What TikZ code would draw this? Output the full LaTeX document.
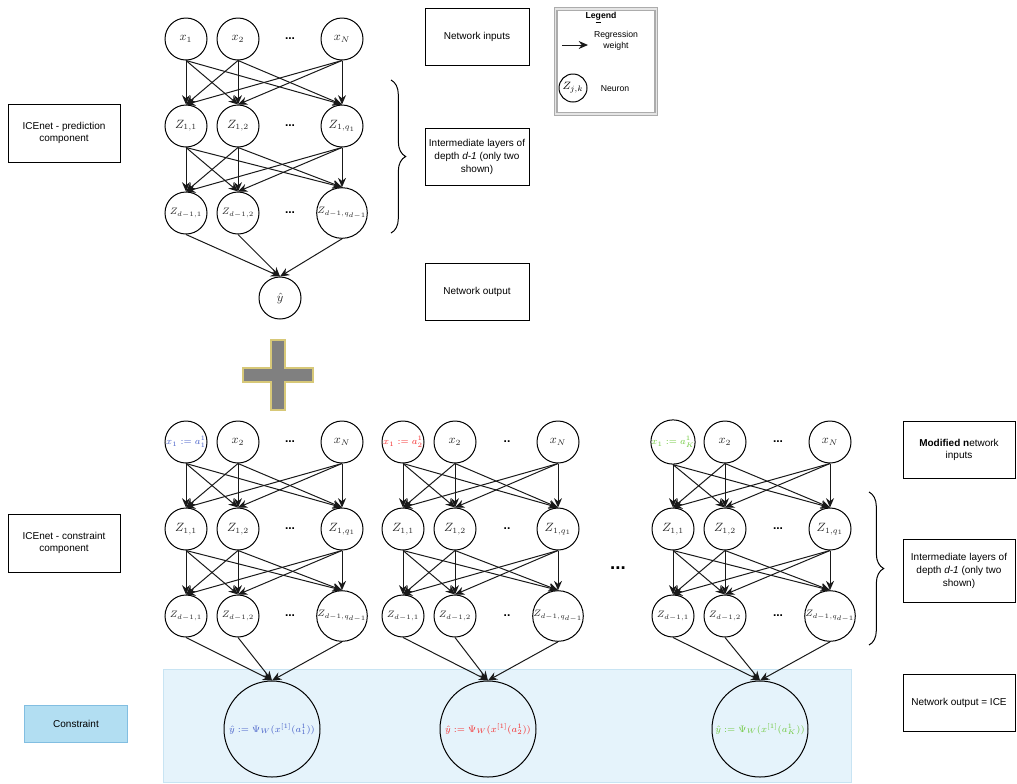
\documentclass[tikz,border=0pt]{standalone}
\usepackage[no-math]{fontspec}
\setmainfont{Liberation Sans}
\usetikzlibrary{arrows.meta,decorations.pathreplacing}
\definecolor{lblue}{RGB}{70,95,200}
\definecolor{lred}{RGB}{245,45,45}
\definecolor{lgreen}{RGB}{110,200,60}
\definecolor{areafill}{RGB}{229,243,251}
\definecolor{areadraw}{RGB}{200,228,243}
\definecolor{consfill}{RGB}{178,222,242}
\definecolor{consdraw}{RGB}{130,190,225}
\definecolor{plusfill}{RGB}{128,128,128}
\definecolor{plusdraw}{RGB}{215,200,120}
\tikzset{
  neuron/.style={circle,draw,line width=0.75pt,minimum size=31.5pt,inner sep=0pt,text=black!85,font=\fontsize{9}{9}\selectfont},
  outn/.style={circle,draw,line width=0.75pt,minimum size=72pt,inner sep=0pt,font=\fontsize{7}{8}\selectfont},
  dotn/.style={inner sep=0pt,font=\fontsize{9}{9}\selectfont\bfseries},
  arr/.style={line width=0.75pt,draw=black!90,-{Stealth[length=7pt,width=6pt]}},
  tbox/.style={draw,line width=0.75pt,align=center,inner sep=1pt,font=\fontsize{7.5}{9.5}\selectfont},
  bracestyle/.style={line width=0.75pt,decorate,decoration={brace,amplitude=11pt}},
}
\newcommand{\smalllab}[1]{{\fontsize{7.3}{8}\selectfont #1}}
\newcommand{\nnet}[8]{%
  \node[neuron] (#1i1) at ({#2},{#6}) {#7};
  \node[neuron] (#1i2) at ({#3},{#6}) {$x_2$};
  \node[dotn] (#1id) at ({#4},{#6}) {#8};
  \node[neuron] (#1iN) at ({#5},{#6}) {$x_N$};
  \node[neuron] (#1a1) at ({#2},{#6+87}) {$Z_{1,1}$};
  \node[neuron] (#1a2) at ({#3},{#6+87}) {$Z_{1,2}$};
  \node[dotn] (#1ad) at ({#4},{#6+87}) {#8};
  \node[neuron] (#1aN) at ({#5},{#6+87}) {$Z_{1,q_1}$};
  \node[neuron] (#1b1) at ({#2},{#6+174}) {\smalllab{$Z_{d-1,1}$}};
  \node[neuron] (#1b2) at ({#3},{#6+174}) {\smalllab{$Z_{d-1,2}$}};
  \node[dotn] (#1bd) at ({#4},{#6+174}) {#8};
  \node[neuron] (#1bN) at ({#5},{#6+174}) {\smalllab{$Z_{d-1,q_{d-1}}$}};
  \foreach \s in {i1,i2,iN}{\foreach \t in {a1,a2,aN}{\draw[arr] (#1\s.south) -- (#1\t.north);}}
  \foreach \s in {a1,a2,aN}{\foreach \t in {b1,b2,bN}{\draw[arr] (#1\s.south) -- (#1\t.north);}}
}
\begin{document}
\begin{tikzpicture}[x=0.75pt,y=-0.75pt]
\useasboundingbox (0,0) rectangle (1017,783);
% constraint area
\filldraw[fill=areafill,draw=areadraw,line width=0.75pt] (163,669) rectangle (851,782);
% top network
\nnet{t}{186}{238}{290}{342}{39}{$x_1$}{...}
\node[neuron] (ty) at (280,298) {$\hat{y}$};
\foreach \s in {b1,b2,bN}{\draw[arr] (t\s.south) -- (ty.north);}
% plus
\filldraw[fill=plusfill,draw=plusdraw,line width=1.2pt] (243,368) -- (271,368) -- (271,340) -- (285,340) -- (285,368) -- (313,368) -- (313,382) -- (285,382) -- (285,410) -- (271,410) -- (271,382) -- (243,382) -- cycle;
% bottom networks
\nnet{p}{186}{238}{290}{342}{442}{\smalllab{\textcolor{lblue}{$x_1:=a_1^1$}}}{...}
\nnet{q}{403}{455}{507}{558}{442}{\smalllab{\textcolor{lred}{$x_1:=a_2^1$}}}{..}
\nnet{r}{673}{725}{778}{830}{442}{\smalllab{\textcolor{lgreen}{$x_1:=a_K^1$}}}{...}
\node[outn,text=lblue] (po) at (272,729) {$\hat{y}:=\Psi_W(x^{[1]}(a_1^1))$};
\node[outn,text=lred] (qo) at (488,729) {$\hat{y}:=\Psi_W(x^{[1]}(a_2^1))$};
\node[outn,text=lgreen] (ro) at (760,729) {$\hat{y}:=\Psi_W(x^{[1]}(a_K^1))$};
\foreach \n in {p,q,r}{\foreach \s in {b1,b2,bN}{\draw[arr] (\n\s.south) -- (\n o.north);}}
\node[inner sep=0pt,font=\fontsize{14}{14}\selectfont\bfseries] (bigdots) at (618,568) {...};
% left boxes
\node[tbox,minimum width=84pt,minimum height=43.5pt] (lpred) at (64,133) {ICEnet - prediction\\component};
\node[tbox,minimum width=84pt,minimum height=43.5pt] (lcons) at (64,543) {ICEnet - constraint\\component};
\node[tbox,fill=consfill,draw=consdraw,minimum width=77pt,minimum height=28pt] (cons) at (76,724) {Constraint};
% right boxes (top)
\node[tbox,minimum width=78pt,minimum height=42.75pt] (rin) at (477,37) {Network inputs};
\node[tbox,minimum width=78pt,minimum height=42.75pt] (rmid) at (477,157) {Intermediate layers of\\depth \textit{d-1} (only two\\shown)};
\node[tbox,minimum width=78pt,minimum height=42.75pt] (rout) at (477,292) {Network output};
% right boxes (bottom)
\node[tbox,minimum width=84pt,minimum height=42.75pt] (bin) at (959,450) {\textbf{Modified n}etwork\\inputs};
\node[tbox,minimum width=84pt,minimum height=47pt] (bmid) at (959,571) {Intermediate layers of\\depth \textit{d-1} (only two\\shown)};
\node[tbox,minimum width=84pt,minimum height=42.75pt] (bout) at (959,703) {Network output = ICE};
% braces
\coordinate (bt1) at (391,80);
\coordinate (bt2) at (391,233);
\draw[bracestyle] (bt1) -- (bt2);
\coordinate (bb1) at (869,492);
\coordinate (bb2) at (869,645);
\draw[bracestyle] (bb1) -- (bb2);
% legend
\node[draw=gray!65,double=gray!20,double distance=1.2pt,line width=0.9pt,minimum width=75.5pt,minimum height=79pt] (leg) at (606,61.5) {};
\node[font=\fontsize{6.5}{7}\selectfont\bfseries] (legt) at (601,18) {Le\underline{g}end};
\coordinate (la) at (562,45);
\coordinate (lb) at (588,45);
\draw[arr] (la) -- (lb);
\node[align=center,font=\fontsize{6.5}{8}\selectfont] (legr) at (616,41) {Regression\\weight};
\node[circle,draw,line width=0.75pt,minimum size=21pt,inner sep=0pt,font=\fontsize{8.5}{9}\selectfont] (legn) at (573,88) {$Z_{j,k}$};
\node[font=\fontsize{6.5}{8}\selectfont] (legnt) at (615,89) {Neuron};
\end{tikzpicture}
\end{document}
